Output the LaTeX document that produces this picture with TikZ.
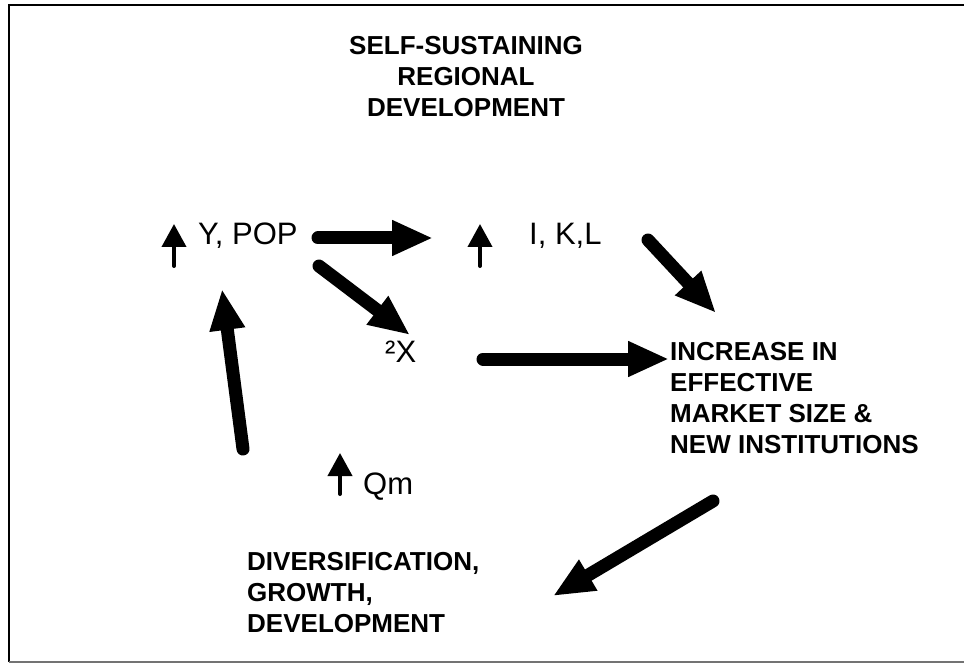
\documentclass[tikz,border=0pt]{standalone}
\usepackage{fontspec}
\setmainfont{Liberation Sans}
\usetikzlibrary{arrows.meta}
\begin{document}
\begin{tikzpicture}[x=1pt,y=-1pt,
  bigarrow/.style={line width=13pt, line cap=round, -{Triangle[length=41pt,width=33pt]}},
  uparrow/.style={line width=4pt, line cap=round, -{Triangle[length=23pt,width=24pt]}},
  boldtxt/.style={inner sep=0pt, font=\fontsize{26}{31}\selectfont\bfseries, align=left},
  regtxt/.style={inner sep=0pt, font=\fontsize{31}{36}\selectfont}]
\useasboundingbox (0,0) rectangle (964,663);
% frame
\draw[line width=2.2pt] (8.7,662) -- (8.7,5) -- (970,5);
\draw[line width=2pt, black!55] (8.7,661.5) -- (970,661.5);
% texts (base anchor = baseline of the last line)
\node[boldtxt, align=center, anchor=base] (title) at (466,117) {SELF-SUSTAINING\\REGIONAL\\DEVELOPMENT};
\node[regtxt, anchor=base west] (ypop) at (198,245) {Y, POP};
\node[regtxt, anchor=base west] (ikl) at (529,245) {I, K,L};
\node[regtxt, anchor=base west] (dx) at (385,362) {²X};
\node[regtxt, anchor=base west] (qm) at (363,494) {Qm};
\node[boldtxt, anchor=base west] (inc) at (670,453) {INCREASE IN\\EFFECTIVE\\MARKET SIZE \&\\NEW INSTITUTIONS};
\node[boldtxt, anchor=base west] (div) at (247,632) {DIVERSIFICATION,\\GROWTH,\\DEVELOPMENT};
% small up arrows
\coordinate (u1b) at (174,266); \coordinate (u1t) at (174,224);
\coordinate (u2b) at (480,266); \coordinate (u2t) at (480,224);
\coordinate (u3b) at (340,494); \coordinate (u3t) at (340,453);
\draw[uparrow] (u1b) -- (u1t);
\draw[uparrow] (u2b) -- (u2t);
\draw[uparrow] (u3b) -- (u3t);
% big arrows
\coordinate (a1s) at (318,238); \coordinate (a1e) at (433,238);
\coordinate (a2s) at (319,266); \coordinate (a2e) at (410,335);
\coordinate (a3s) at (648,240); \coordinate (a3e) at (716,313);
\coordinate (a4s) at (483,359); \coordinate (a4e) at (669,359);
\coordinate (a5s) at (243,449); \coordinate (a5e) at (222,289);
\coordinate (a6s) at (713,501); \coordinate (a6e) at (553,596);
\draw[bigarrow] (a1s) -- (a1e);
\draw[bigarrow] (a2s) -- (a2e);
\draw[bigarrow] (a3s) -- (a3e);
\draw[bigarrow] (a4s) -- (a4e);
\draw[bigarrow] (a5s) -- (a5e);
\draw[bigarrow] (a6s) -- (a6e);
\end{tikzpicture}
\end{document}
